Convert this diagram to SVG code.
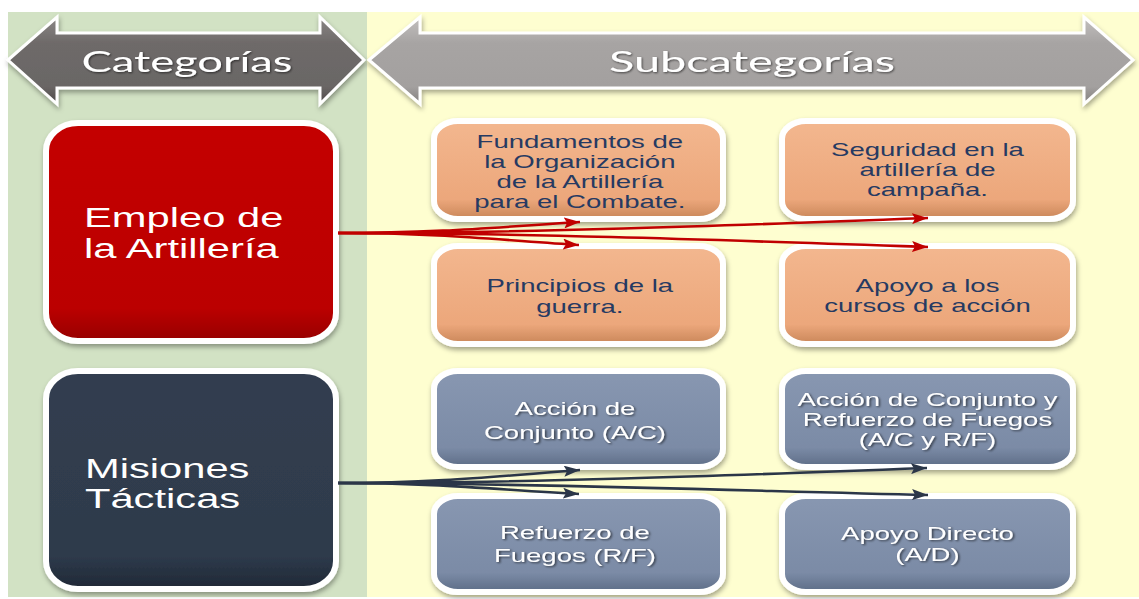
<svg xmlns="http://www.w3.org/2000/svg" width="1139" height="599" viewBox="0 0 1139 599">
<style>
.cat{font-family:Lato,"Liberation Sans",sans-serif;font-size:28px;fill:#ffffff;text-anchor:middle}
.big{font-family:"Liberation Sans",Arial,sans-serif;font-size:28px;fill:#ffffff}
.sub{font-family:"Liberation Sans",Arial,sans-serif;font-size:18px;text-anchor:middle}
.so{fill:#263a62}
.sb{fill:#ffffff}
.box{stroke:#ffffff;stroke-width:6}
.red{fill:none;stroke:#c00000;stroke-width:2.6}
.blu{fill:none;stroke:#2b3648;stroke-width:2.6}
</style>
<defs>
<filter id="sh" x="-10%" y="-10%" width="125%" height="130%">
<feDropShadow dx="1" dy="3" stdDeviation="2.5" flood-color="#000" flood-opacity="0.35"/>
</filter>
<filter id="ts" x="-5%" y="-20%" width="110%" height="150%">
<feDropShadow dx="1" dy="1" stdDeviation="0.8" flood-color="#000" flood-opacity="0.6"/>
</filter>
<linearGradient id="gOr" x1="0" y1="0" x2="0" y2="1">
<stop offset="0" stop-color="#f3b78f"/><stop offset="0.8" stop-color="#eca77b"/><stop offset="1" stop-color="#c98659"/>
</linearGradient>
<linearGradient id="gBl" x1="0" y1="0" x2="0" y2="1">
<stop offset="0" stop-color="#8897b1"/><stop offset="0.8" stop-color="#7b8ba6"/><stop offset="1" stop-color="#5d6c86"/>
</linearGradient>
<linearGradient id="gRd" x1="0" y1="0" x2="0" y2="1">
<stop offset="0" stop-color="#c40000"/><stop offset="0.85" stop-color="#bb0000"/><stop offset="1" stop-color="#960000"/>
</linearGradient>
<linearGradient id="gDk" x1="0" y1="0" x2="0" y2="1">
<stop offset="0" stop-color="#323e50"/><stop offset="0.85" stop-color="#2e3a4b"/><stop offset="1" stop-color="#1f2836"/>
</linearGradient>
<linearGradient id="gA1" x1="0" y1="0" x2="0" y2="1">
<stop offset="0" stop-color="#8a8685"/><stop offset="0.3" stop-color="#6e6a69"/><stop offset="0.8" stop-color="#6a6665"/><stop offset="1" stop-color="#4e4a49"/>
</linearGradient>
<linearGradient id="gA2" x1="0" y1="0" x2="0" y2="1">
<stop offset="0" stop-color="#c2bfbe"/><stop offset="0.3" stop-color="#a7a4a3"/><stop offset="0.8" stop-color="#a3a09f"/><stop offset="1" stop-color="#83807f"/>
</linearGradient>
<marker id="mR" viewBox="0 0 16 11" refX="16" refY="5.5" markerWidth="16" markerHeight="11" markerUnits="userSpaceOnUse" orient="auto">
<path d="M0,0 L16,5.5 L0,11 L3,5.5 Z" fill="#c00000"/>
</marker>
<marker id="mB" viewBox="0 0 16 11" refX="16" refY="5.5" markerWidth="16" markerHeight="11" markerUnits="userSpaceOnUse" orient="auto">
<path d="M0,0 L16,5.5 L0,11 L3,5.5 Z" fill="#2b3648"/>
</marker>
</defs>

<rect x="0" y="0" width="1139" height="599" fill="#ffffff"/>
<rect x="8" y="12" width="359" height="585" fill="#d2e2c4"/>
<rect x="367" y="12" width="772" height="585" fill="#fefed0"/>

<g id="hdr-categorias">
<path d="M8,60 L57,17 L57,33 L320,33 L320,17 L364,60 L320,104 L320,88 L57,88 L57,104 Z" fill="url(#gA1)" stroke="#ffffff" stroke-width="3" stroke-linejoin="miter" filter="url(#sh)"/>
<text class="cat" x="187" y="72" textLength="211" lengthAdjust="spacingAndGlyphs" filter="url(#ts)">Categorías</text>
</g>
<g id="hdr-subcategorias">
<path d="M369,60 L420,17 L420,33 L1084,33 L1084,17 L1133,60 L1084,104 L1084,88 L420,88 L420,104 Z" fill="url(#gA2)" stroke="#ffffff" stroke-width="3" filter="url(#sh)"/>
<text class="cat" x="752" y="72" textLength="286" lengthAdjust="spacingAndGlyphs" filter="url(#ts)">Subcategorías</text>
</g>

<g id="n-empleo">
<rect class="box" x="46" y="123" width="290" height="218" rx="32" ry="28" fill="url(#gRd)" filter="url(#sh)"/>
<text class="big" transform="scale(1.49 1)"><tspan x="56.4" y="227">Empleo de</tspan><tspan x="56.4" y="258">la Artillería</tspan></text>
</g>
<g id="n-misiones">
<rect class="box" x="46" y="371" width="290" height="218" rx="32" ry="28" fill="url(#gDk)" filter="url(#sh)"/>
<text class="big" transform="scale(1.49 1)"><tspan x="57" y="478">Misiones</tspan><tspan x="57" y="508">Tácticas</tspan></text>
</g>

<g id="n-fundamentos">
<rect class="box" x="434" y="121" width="289" height="98" rx="24" ry="18" fill="url(#gOr)" filter="url(#sh)"/>
<text class="sub so" transform="scale(1.53 1)"><tspan x="379" y="148">Fundamentos de</tspan><tspan x="379" y="168">la Organización</tspan><tspan x="379" y="188">de la Artillería</tspan><tspan x="379" y="208">para el Combate.</tspan></text>
</g>
<g id="n-seguridad">
<rect class="box" x="782" y="121" width="291" height="98" rx="24" ry="18" fill="url(#gOr)" filter="url(#sh)"/>
<text class="sub so" transform="scale(1.53 1)"><tspan x="606.2" y="156">Seguridad en la</tspan><tspan x="606.2" y="176">artillería de</tspan><tspan x="606.2" y="196">campaña.</tspan></text>
</g>
<g id="n-principios">
<rect class="box" x="434" y="246" width="289" height="98" rx="24" ry="18" fill="url(#gOr)" filter="url(#sh)"/>
<text class="sub so" transform="scale(1.53 1)"><tspan x="379" y="292">Principios de la</tspan><tspan x="379" y="313">guerra.</tspan></text>
</g>
<g id="n-apoyo-cursos">
<rect class="box" x="782" y="246" width="291" height="98" rx="24" ry="18" fill="url(#gOr)" filter="url(#sh)"/>
<text class="sub so" transform="scale(1.53 1)"><tspan x="606.2" y="292">Apoyo a los</tspan><tspan x="606.2" y="312">cursos de acción</tspan></text>
</g>

<g id="n-accion-conjunto">
<rect class="box" x="434" y="371" width="289" height="96" rx="24" ry="18" fill="url(#gBl)" filter="url(#sh)"/>
<text class="sub sb" transform="scale(1.53 1)" filter="url(#ts)"><tspan x="375.8" y="415">Acción de</tspan><tspan x="375.8" y="439">Conjunto (A/C)</tspan></text>
</g>
<g id="n-ac-rf">
<rect class="box" x="782" y="371" width="291" height="96" rx="24" ry="18" fill="url(#gBl)" filter="url(#sh)"/>
<text class="sub sb" transform="scale(1.53 1)" filter="url(#ts)"><tspan x="606.2" y="406">Acción de Conjunto y</tspan><tspan x="606.2" y="426">Refuerzo de Fuegos</tspan><tspan x="606.2" y="446">(A/C y R/F)</tspan></text>
</g>
<g id="n-refuerzo">
<rect class="box" x="434" y="496" width="289" height="96" rx="24" ry="18" fill="url(#gBl)" filter="url(#sh)"/>
<text class="sub sb" transform="scale(1.53 1)" filter="url(#ts)"><tspan x="375.8" y="539">Refuerzo de</tspan><tspan x="375.8" y="562">Fuegos (R/F)</tspan></text>
</g>
<g id="n-apoyo-directo">
<rect class="box" x="782" y="496" width="291" height="96" rx="24" ry="18" fill="url(#gBl)" filter="url(#sh)"/>
<text class="sub sb" transform="scale(1.53 1)" filter="url(#ts)"><tspan x="606.2" y="540">Apoyo Directo</tspan><tspan x="606.2" y="561">(A/D)</tspan></text>
</g>

<g id="connectors">
<path class="red" d="M338,233 C440,233 500,227 580,222" marker-end="url(#mR)"/>
<path class="red" d="M338,233 C440,233 500,240 579,245" marker-end="url(#mR)"/>
<path class="red" d="M338,233 C520,233 720,226 928,218" marker-end="url(#mR)"/>
<path class="red" d="M338,233 C520,233 720,240 928,247" marker-end="url(#mR)"/>
<path class="blu" d="M338,483 C440,483 500,476 580,470" marker-end="url(#mB)"/>
<path class="blu" d="M338,483 C440,483 500,490 579,494" marker-end="url(#mB)"/>
<path class="blu" d="M338,483 C520,483 720,476 927,468" marker-end="url(#mB)"/>
<path class="blu" d="M338,483 C520,483 720,490 928,495" marker-end="url(#mB)"/>
</g>
</svg>
